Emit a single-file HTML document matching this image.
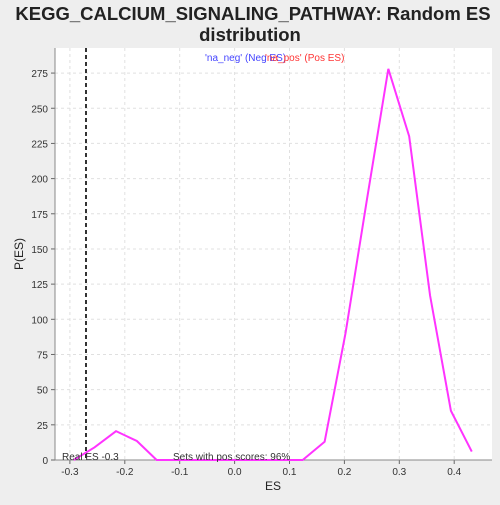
<!DOCTYPE html>
<html><head><style>
body{margin:0;background:#eeeeee;font-family:"Liberation Sans",sans-serif;}
</style></head><body>
<svg width="500" height="500" xmlns="http://www.w3.org/2000/svg">
<text x="253" y="20" text-anchor="middle" font-size="18.5" font-weight="bold" fill="#222">KEGG_CALCIUM_SIGNALING_PATHWAY: Random ES</text>
<text x="250" y="41" text-anchor="middle" font-size="18.5" font-weight="bold" fill="#222">distribution</text>
<rect x="55" y="48" width="437" height="412" fill="#fff"/>
<g id="grid"></g><g id="axes"></g>
<line x1="86" y1="48" x2="86" y2="460" stroke="#333" stroke-width="2" stroke-dasharray="4,3"/>
<polyline id="series" fill="none" stroke="#ff33ff" stroke-width="2"/>
<text x="205" y="61" font-size="10" fill="#4444ff">'na_neg' (Neg ES)</text>
<text x="265" y="61" font-size="10" fill="#ff3333">'na_pos' (Pos ES)</text>
<text x="62" y="460" font-size="10" fill="#333">Real ES -0.3</text>
<text x="173" y="460" font-size="10" fill="#333">Sets with pos scores: 96%</text>
<text x="273" y="490" text-anchor="middle" font-size="12" fill="#222">ES</text>
<text transform="translate(23,254) rotate(-90)" text-anchor="middle" font-size="12" fill="#222">P(ES)</text>
</svg>
<script>
const esValues=[-0.293,-0.255,-0.216,-0.178,-0.142,-0.104,-0.066,-0.028,0.010,0.048,0.086,0.124,0.164,0.202,0.241,0.280,0.318,0.356,0.394,0.432];
const density=[0,9,20.5,13.5,0,0,0,0,0,0,0,0,13,90,185,278,230,117,35,6];
const xTicks=[-0.3,-0.2,-0.1,0.0,0.1,0.2,0.3,0.4];
const yTicks=[0,25,50,75,100,125,150,175,200,225,250,275];
const NS="http://www.w3.org/2000/svg";
const X=v=>234.6+v*549;
const Y=v=>460-v*1.407;
const grid=document.getElementById('grid'),axes=document.getElementById('axes');
function mk(t,a,p){const e=document.createElementNS(NS,t);for(const k in a)e.setAttribute(k,a[k]);p.appendChild(e);return e;}
yTicks.forEach(t=>{
 const g=mk('line',{x1:55,x2:492,y1:Y(t),y2:Y(t),stroke:'#e0e0e0','stroke-dasharray':'3,3'},grid);
 
 
 mk('line',{x1:51,x2:55,y1:Y(t),y2:Y(t),stroke:'#666'},axes);
 const l=mk('text',{x:48,y:Y(t)+4,'text-anchor':'end','font-size':10,fill:'#333'},axes);
 l.textContent=t;
 
 
});
xTicks.forEach(t=>{
 const g=mk('line',{x1:X(t),x2:X(t),y1:48,y2:460,stroke:'#e0e0e0','stroke-dasharray':'3,3'},grid);
 
 
 mk('line',{x1:X(t),x2:X(t),y1:460,y2:464,stroke:'#666'},axes);
 const l=mk('text',{x:X(t),y:475,'text-anchor':'middle','font-size':10,fill:'#333'},axes);
 l.textContent=t.toFixed(1);
 
 
});
mk('line',{x1:55,x2:55,y1:48,y2:460,stroke:'#888'},axes);
mk('line',{x1:55,x2:492,y1:460,y2:460,stroke:'#888'},axes);
document.getElementById('series').setAttribute('points',esValues.map((v,i)=>X(v)+','+Y(density[i])).join(' '));
</script>
</body></html>
